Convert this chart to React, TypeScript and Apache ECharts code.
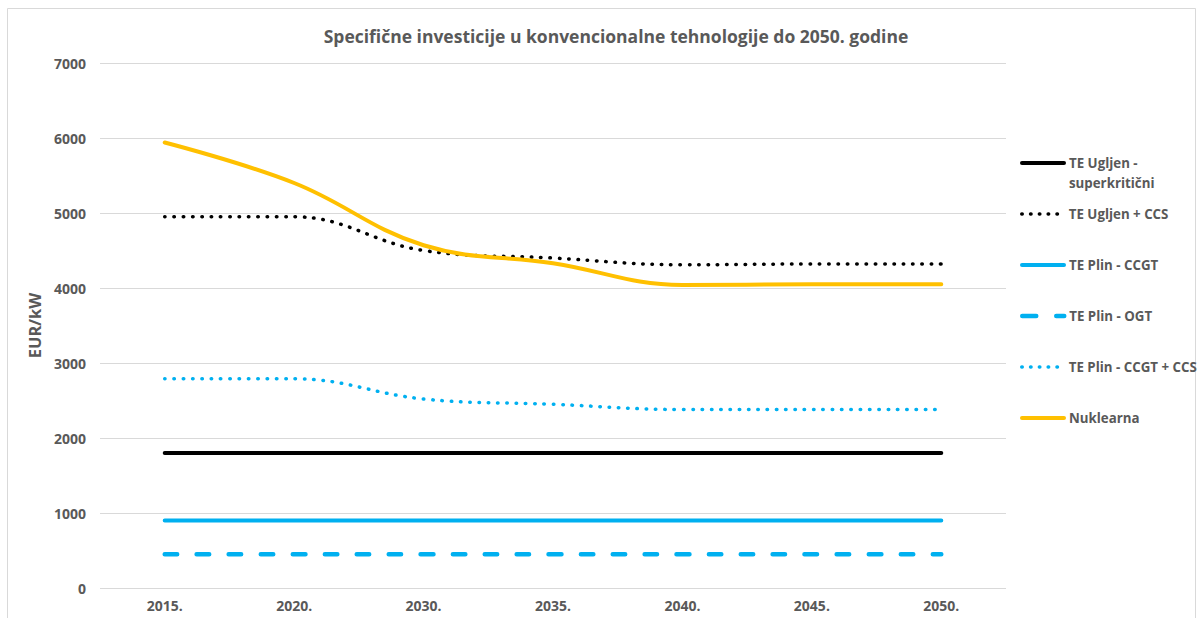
import React, { useEffect, useRef } from "react";
import * as echarts from "echarts";

const title = "Specifične investicije u konvencionalne tehnologije do 2050. godine";
const yAxisName = "EUR/kW";
const categories = ["2015.", "2020.", "2030.", "2035.", "2040.", "2045.", "2050."];

const ugljenSuper = [1800, 1800, 1800, 1800, 1800, 1800, 1800];
const ugljenCCS = [4950, 4950, 4500, 4400, 4310, 4320, 4320];
const plinCCGT = [900, 900, 900, 900, 900, 900, 900];
const plinOGT = [450, 450, 450, 450, 450, 450, 450];
const plinCCGTCCS = [2790, 2790, 2520, 2450, 2380, 2380, 2380];
const nuklearna = [5940, 5400, 4570, 4330, 4040, 4050, 4050];

const seriesNames = [
  "TE Ugljen - superkritični",
  "TE Ugljen + CCS",
  "TE Plin - CCGT",
  "TE Plin - OGT",
  "TE Plin - CCGT + CCS",
  "Nuklearna",
];

const FONT = "Open Sans";
const GRAY = "#595959";

export default function App() {
  const ref = useRef<HTMLDivElement>(null);
  useEffect(() => {
    document.body.style.margin = "0";
    const chart = echarts.init(ref.current!, null, { renderer: "svg" });
    const data = [ugljenSuper, ugljenCCS, plinCCGT, plinOGT, plinCCGTCCS, nuklearna];
    const styles: any[] = [
      { color: "#000000", width: 4, type: "solid", cap: "round" },
      { color: "#000000", width: 3.5, type: [0.5, 8.8], cap: "round" },
      { color: "#00B0F0", width: 4, type: "solid", cap: "round" },
      { color: "#00B0F0", width: 4.5, type: [12.5, 19.5], cap: "round" },
      { color: "#00B0F0", width: 3.5, type: [0.5, 8.8], cap: "round" },
      { color: "#FFC000", width: 4, type: "solid", cap: "round" },
    ];
    const legendLineStyles: any[] = [
      { color: "#000000", width: 4, type: "solid", cap: "round" },
      { color: "#000000", width: 3.5, type: [0.5, 8.3], cap: "round" },
      { color: "#00B0F0", width: 4, type: "solid", cap: "round" },
      { color: "#00B0F0", width: 4.5, type: [14, 20], cap: "round" },
      { color: "#00B0F0", width: 3.5, type: [0.5, 8.3], cap: "round" },
      { color: "#FFC000", width: 4, type: "solid", cap: "round" },
    ];
    const series = seriesNames.map((name, i) => ({
      name,
      type: "line",
      data: data[i],
      smooth: 0.4,
      symbol: "none",
      showSymbol: false,
      color: styles[i].color,
      lineStyle: styles[i],
      z: i === 5 ? 3 : 2,
    }));
    const legendCenters = [163, 214, 265, 316, 367, 418];
    const legends = seriesNames.map((name, i) => ({
      data: [name],
      orient: "vertical",
      left: 1015,
      top: i === 0 ? legendCenters[i] - 35 : legendCenters[i] - 15,
      itemWidth: 42,
      itemHeight: 14,
      itemGap: 5,
      selectedMode: false,
      itemStyle: { opacity: 0 },
      lineStyle: legendLineStyles[i],
      formatter: (n: string) => (n === seriesNames[0] ? "\u00a0\nTE Ugljen -\nsuperkritični" : n),
      textStyle: {
        fontFamily: FONT,
        fontWeight: "bold",
        fontSize: 13.3,
        color: GRAY,
        lineHeight: 20,
      },
    }));
    chart.setOption({
      animation: false,
      backgroundColor: "#ffffff",
      title: {
        text: title,
        left: 611,
        textAlign: "center",
        top: 22,
        textStyle: { fontFamily: FONT, fontWeight: "bold", fontSize: 17.5, color: GRAY },
      },
      graphic: [
        {
          type: "rect",
          shape: { x: 7.5, y: 8.5, width: 1188, height: 620 },
          style: { fill: "none", stroke: "#d9d9d9", lineWidth: 1 },
          silent: true,
        },
      ],
      legend: legends,
      grid: { left: 100, right: 197, top: 63, bottom: 30, containLabel: false },
      xAxis: {
        type: "category",
        data: categories,
        boundaryGap: true,
        axisLine: { show: false },
        axisTick: { show: false },
        axisLabel: { fontFamily: FONT, fontWeight: "bold", fontSize: 14, color: GRAY, margin: 10 },
      },
      yAxis: {
        type: "value",
        min: 0,
        max: 7000,
        interval: 1000,
        name: yAxisName,
        nameLocation: "middle",
        nameGap: 53,
        nameTextStyle: { fontFamily: FONT, fontWeight: "bold", fontSize: 16.5, color: GRAY },
        axisLine: { show: false },
        axisTick: { show: false },
        axisLabel: {
          fontFamily: FONT,
          fontWeight: "bold",
          fontSize: 14,
          color: GRAY,
          margin: 14,
          formatter: (v: number) => String(v),
        },
        splitLine: { lineStyle: { color: "#d9d9d9", width: 1 } },
      },
      series,
    });
    return () => chart.dispose();
  }, []);
  return <div ref={ref} style={{ width: 1203, height: 618 }} />;
}
